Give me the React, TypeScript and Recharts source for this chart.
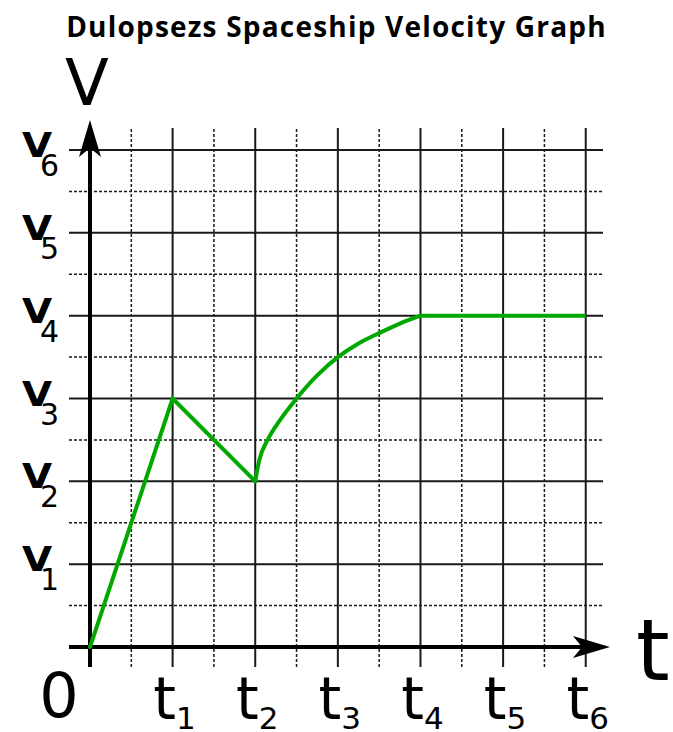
import { LineChart, Line, XAxis, YAxis, ReferenceLine } from "recharts";

const TITLE = "Dulopsezs Spaceship Velocity Graph";

// tick labels
const V_TICKS = [1, 2, 3, 4, 5, 6];
const T_TICKS = [0, 1, 2, 3, 4, 5, 6];

// grid: whole steps solid, half steps dotted
const GRID_T = [0.5, 1, 1.5, 2, 2.5, 3, 3.5, 4, 4.5, 5, 5.5, 6];
const GRID_V = [0.5, 1, 1.5, 2, 2.5, 3, 3.5, 4, 4.5, 5, 5.5, 6];

// velocity path (t in t-units, v in V-units)
const RISE = [
  { t: 0, v: 0 },
  { t: 1, v: 3 },
  { t: 2, v: 2 },
];
const CURVE = [
  { t: 2, v: 2 },
  { t: 2.05, v: 2.26 },
  { t: 2.15, v: 2.5 },
  { t: 2.3, v: 2.74 },
  { t: 2.5, v: 3 },
  { t: 2.75, v: 3.28 },
  { t: 3, v: 3.5 },
  { t: 3.25, v: 3.665 },
  { t: 3.5, v: 3.79 },
  { t: 3.75, v: 3.905 },
  { t: 4, v: 4 },
];
const CRUISE = [
  { t: 4, v: 4 },
  { t: 6, v: 4 },
];

const GREEN = "#00a800";
const INK = "#1a1a1a";
const FONT = "'DejaVu Sans', Verdana, sans-serif";

const VTick = (props: any) => {
  const { x, y, payload } = props;
  return (
    <g>
      <text
        transform={`translate(${x - 47},${y + 7}) scale(1.18,1)`}
        fontFamily={FONT}
        fontWeight="bold"
        fontSize={33}
        fill="#000"
      >
        V
      </text>
      <text x={x - 29} y={y + 26} fontFamily={FONT} fontSize={30} fill="#000">
        {payload.value}
      </text>
    </g>
  );
};

const TTick = (props: any) => {
  const { x, y, payload } = props;
  if (payload.value === 0) {
    return (
      <text x={x - 31} y={y + 50} textAnchor="middle" fontFamily={FONT} fontSize={62} fill="#000">
        0
      </text>
    );
  }
  return (
    <text x={x + 2} y={y + 52} textAnchor="middle" fontFamily={FONT} fill="#000">
      <tspan fontSize={58}>t</tspan>
      <tspan fontSize={31} dy={10}>{payload.value}</tspan>
    </text>
  );
};

const YAxisArrow = (props: any) => {
  const { x1, y1, y2 } = props;
  const top = Math.min(y1, y2) - 8;
  const bottom = Math.max(y1, y2);
  return (
    <g>
      <line x1={x1} y1={bottom} x2={x1} y2={top + 20} stroke="#000" strokeWidth={4} />
      <path d={`M${x1},${top} L${x1 + 11},${top + 37} L${x1},${top + 28} L${x1 - 11},${top + 37} Z`} fill="#000" />
      <text x={x1 - 3} y={top - 15} textAnchor="middle" fontFamily={FONT} fontSize={64} fill="#000">
        V
      </text>
    </g>
  );
};

const XAxisArrow = (props: any) => {
  const { x1, x2, y1 } = props;
  const left = Math.min(x1, x2);
  const tip = Math.max(x1, x2) + 7;
  return (
    <g>
      <line x1={left} y1={y1} x2={tip - 20} y2={y1} stroke="#000" strokeWidth={4} />
      <path d={`M${tip},${y1} L${tip - 37},${y1 - 11} L${tip - 28},${y1} L${tip - 37},${y1 + 11} Z`} fill="#000" />
      <text x={tip + 26} y={y1 + 33} fontFamily={FONT} fontSize={86} fill="#000">
        t
      </text>
    </g>
  );
};

export default function App() {
  return (
    <div
      style={{
        position: "absolute",
        left: 0,
        top: 0,
        width: 673,
        height: 732,
        overflow: "hidden",
        background: "#fff",
      }}
    >
      <div
        style={{
          position: "absolute",
          top: 11,
          left: 0,
          width: 673,
          textAlign: "center",
          fontFamily: "'Open Sans', sans-serif",
          fontWeight: 700,
          fontSize: 28,
          letterSpacing: 1.2,
          lineHeight: "30px",
          color: "#000",
        }}
      >
        {TITLE}
      </div>
      <LineChart
        width={673}
        height={732}
        margin={{ top: 128, right: 70, bottom: 0, left: 0 }}
        style={{ position: "absolute", top: 0, left: 0 }}
      >
        <XAxis
          dataKey="t"
          type="number"
          domain={[-0.254, 6.209]}
          allowDataOverflow
          ticks={T_TICKS}
          height={65}
          axisLine={false}
          tickLine={false}
          tickSize={0}
          tickMargin={0}
          tick={<TTick />}
          interval={0}
        />
        <YAxis
          dataKey="v"
          type="number"
          domain={[-0.241, 6.266]}
          allowDataOverflow
          ticks={V_TICKS}
          width={69}
          axisLine={false}
          tickLine={false}
          tickSize={0}
          tickMargin={0}
          tick={<VTick />}
          interval={0}
        />
        {GRID_T.map((t) => (
          <ReferenceLine
            key={`gt-${t}`}
            x={t}
            stroke={INK}
            strokeWidth={Number.isInteger(t) ? 2 : 1.5}
            strokeDasharray={Number.isInteger(t) ? undefined : "3 2"}
          />
        ))}
        {GRID_V.map((v) => (
          <ReferenceLine
            key={`gv-${v}`}
            y={v}
            stroke={INK}
            strokeWidth={Number.isInteger(v) ? 2 : 1.5}
            strokeDasharray={Number.isInteger(v) ? undefined : "3 2"}
          />
        ))}
        <ReferenceLine y={0} shape={<XAxisArrow />} />
        <ReferenceLine x={0} shape={<YAxisArrow />} />
        <Line
          data={RISE}
          dataKey="v"
          type="linear"
          stroke={GREEN}
          strokeWidth={4}
          strokeLinecap="round"
          strokeLinejoin="miter"
          dot={false}
          activeDot={false}
          isAnimationActive={false}
        />
        <Line
          data={CURVE}
          dataKey="v"
          type="monotone"
          stroke={GREEN}
          strokeWidth={4}
          strokeLinecap="round"
          dot={false}
          activeDot={false}
          isAnimationActive={false}
        />
        <Line
          data={CRUISE}
          dataKey="v"
          type="linear"
          stroke={GREEN}
          strokeWidth={4}
          strokeLinecap="butt"
          dot={false}
          activeDot={false}
          isAnimationActive={false}
        />
      </LineChart>
    </div>
  );
}
